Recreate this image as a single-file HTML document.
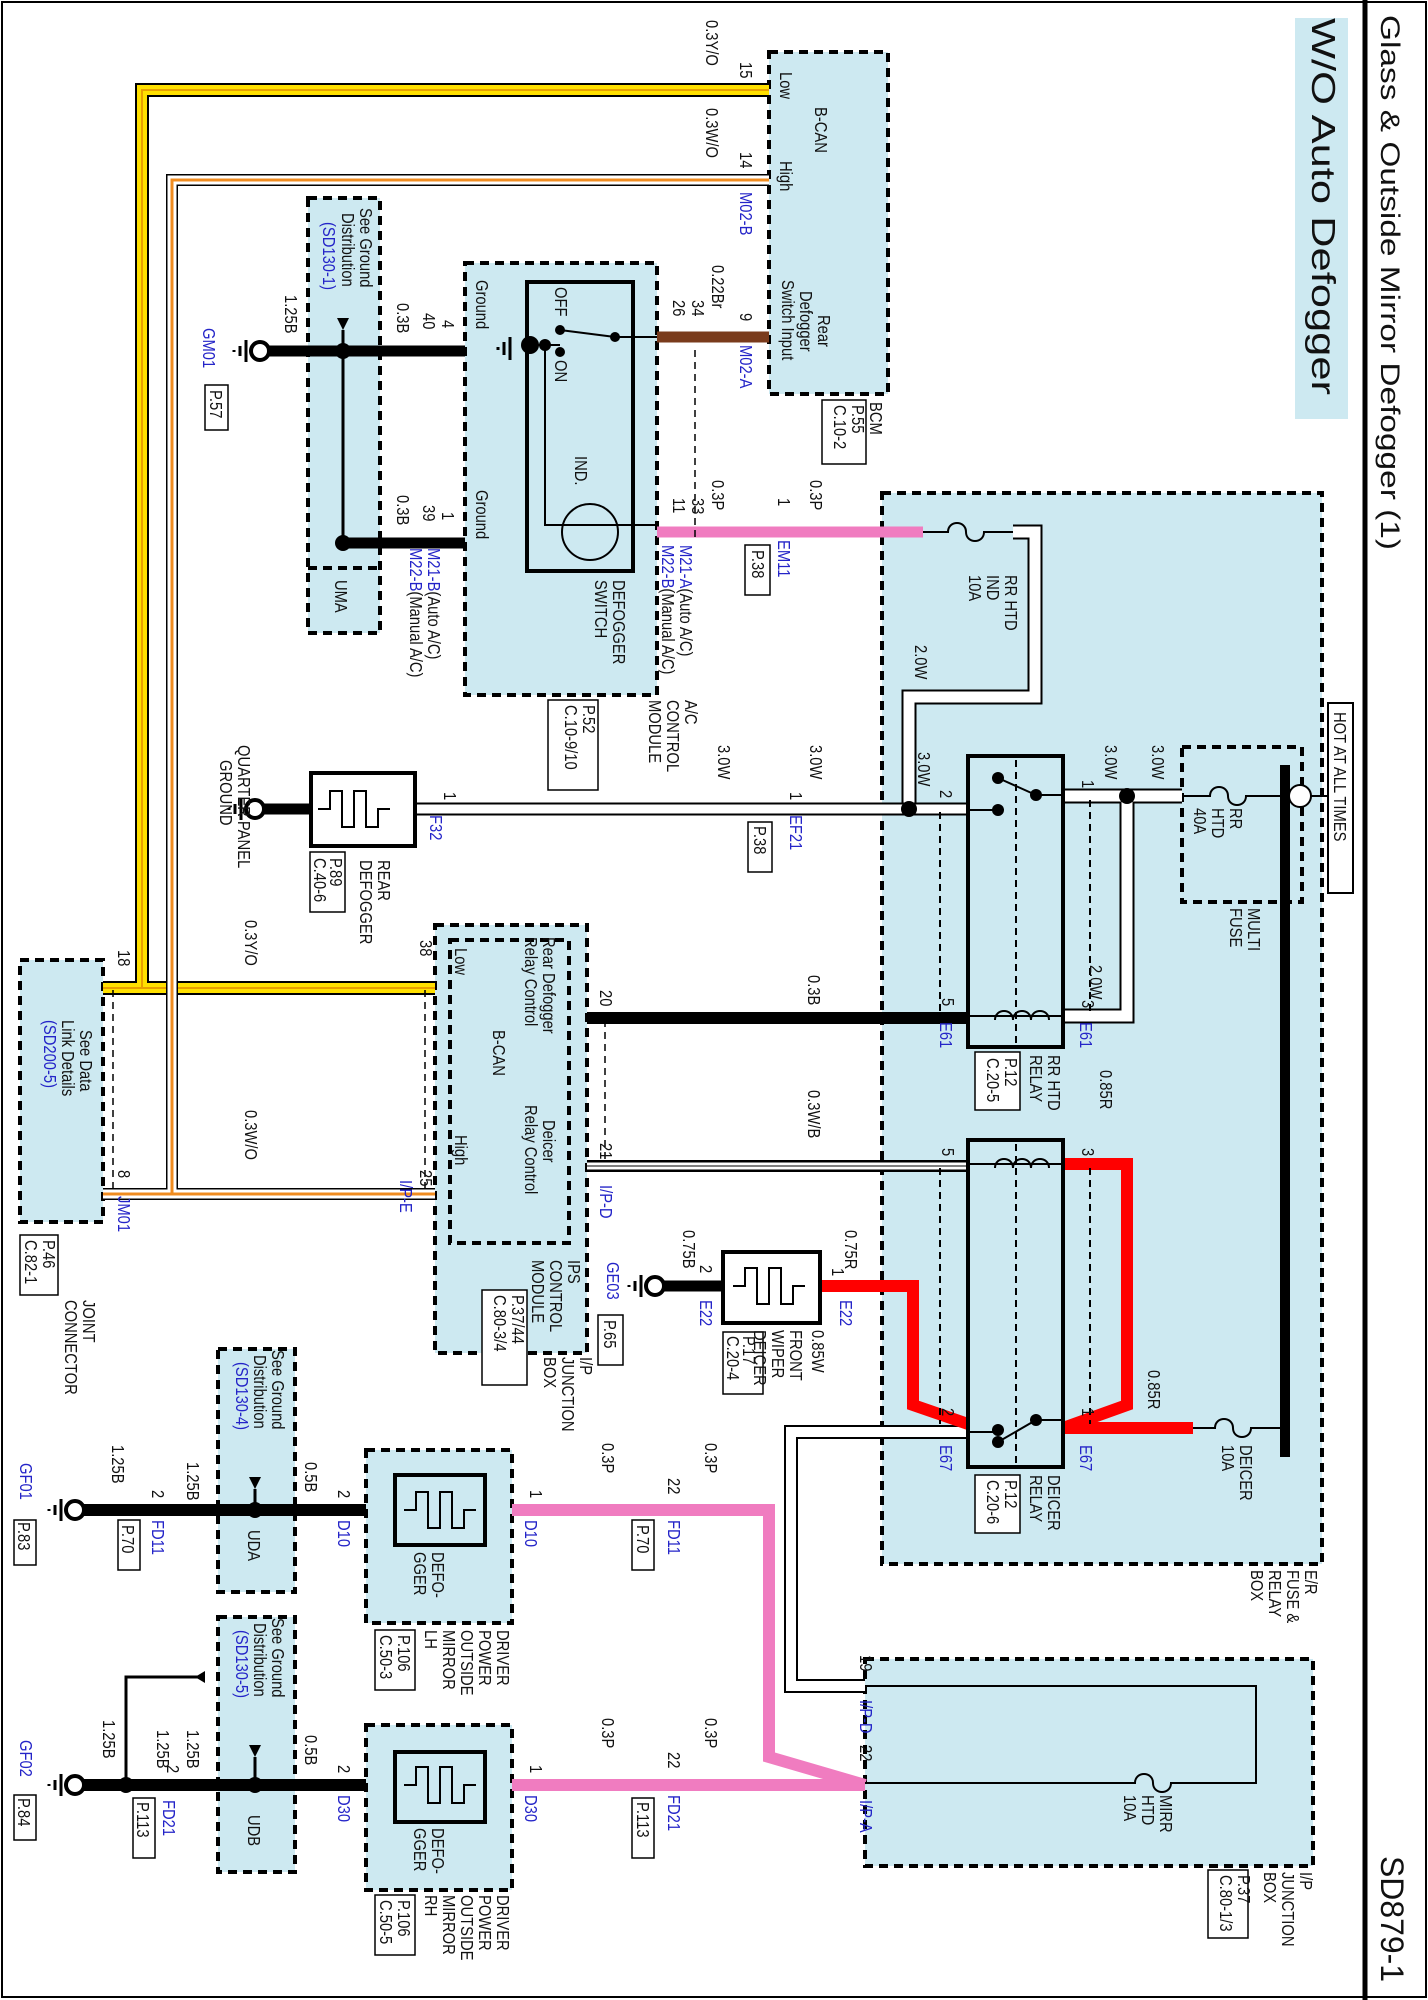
<!DOCTYPE html>
<html><head><meta charset="utf-8"><style>
html,body{margin:0;padding:0;background:#fff}
svg{display:block}
text{font-family:"Liberation Sans",sans-serif;font-size:18px;fill:#111}
.b{fill:#2424c8}
</style></head><body>
<svg width="1428" height="2000" viewBox="0 0 1428 2000" xmlns="http://www.w3.org/2000/svg">
<defs>
<path id="heat" d="M0 0 h12 v-18 h12 v36 h12 v-36 h12 v36 h12 v-18 h12" fill="none" stroke="#000" stroke-width="2"/>
</defs>
<rect x="2" y="2" width="1424" height="1995" fill="#fff" stroke="#000" stroke-width="2"/>
<line x1="1365" y1="0" x2="1365" y2="2000" stroke="#000" stroke-width="5"/>
<text transform="translate(1381 15) rotate(90)" style="font-size:27px" textLength="535" lengthAdjust="spacingAndGlyphs">Glass &amp; Outside Mirror Defogger (1)</text>
<text transform="translate(1381 1856) rotate(90)" style="font-size:32px" textLength="126" lengthAdjust="spacingAndGlyphs">SD879-1</text>
<rect x="1295" y="18" width="53" height="401" fill="#cde9f1"/>
<text transform="translate(1312 18) rotate(90)" style="font-size:33px" textLength="377" lengthAdjust="spacingAndGlyphs">W/O Auto Defogger</text>

<g fill="#cde9f1" stroke="#000" stroke-width="4" stroke-dasharray="9 6">
<rect x="769" y="52" width="119" height="342"/>
<rect x="465" y="263" width="192" height="432"/>
<rect x="308" y="198" width="72" height="435"/>
<rect x="882" y="493" width="440" height="1071"/>
<rect x="20" y="960" width="83" height="262"/>
<rect x="435" y="925" width="152" height="428"/>
<rect x="218" y="1349" width="77" height="243"/>
<rect x="218" y="1617" width="77" height="255"/>
<rect x="366" y="1450" width="146" height="173"/>
<rect x="366" y="1725" width="146" height="165"/>
<rect x="865" y="1659" width="448" height="207"/>
</g>
<g fill="none" stroke="#000" stroke-width="4" stroke-dasharray="9 6">
<rect x="1182" y="747" width="120" height="155"/>
<rect x="450" y="940" width="119" height="303"/>
<line x1="218" y1="1510" x2="295" y2="1510"/>
<line x1="218" y1="1785" x2="295" y2="1785"/>
<line x1="308" y1="568" x2="380" y2="568"/>
</g>

<g fill="none">
<path d="M769 90 H142 V988 H103 M142 988 H435" stroke="#000" stroke-width="14"/>
<path d="M769 90 H142 V988 H103 M142 988 H435" stroke="#ffe000" stroke-width="10"/>
<path d="M769 90 H142 V988 H103 M142 988 H435" stroke="#e8a000" stroke-width="2"/>
<path d="M769 180 H172 V1194 H103 M172 1194 H435" stroke="#000" stroke-width="12"/>
<path d="M769 180 H172 V1194 H103 M172 1194 H435" stroke="#fff" stroke-width="9"/>
<path d="M769 180 H172 V1194 H103 M172 1194 H435" stroke="#f08c20" stroke-width="3"/>
<line x1="657" y1="337" x2="769" y2="337" stroke="#7a3b1c" stroke-width="11"/>
<line x1="657" y1="532" x2="923" y2="532" stroke="#f07cc0" stroke-width="11"/>
<path d="M260 351 H465 M343 543 H465" stroke="#000" stroke-width="11"/>
<line x1="343" y1="351" x2="343" y2="543" stroke="#000" stroke-width="3"/>
<path d="M1013 532 H1035 V697 H909 V809" stroke="#000" stroke-width="15"/>
<path d="M1013 532 H1035 V697 H909 V809" stroke="#fff" stroke-width="11"/>
<path d="M415 809 H968" stroke="#000" stroke-width="13"/>
<path d="M415 809 H968" stroke="#fff" stroke-width="9"/>
<path d="M1063 796 H1182 M1127 796 V1016 H1063" stroke="#000" stroke-width="15"/>
<path d="M1063 796 H1182 M1127 796 V1016 H1063" stroke="#fff" stroke-width="11"/>
<line x1="587" y1="1018" x2="968" y2="1018" stroke="#000" stroke-width="12"/>
<line x1="587" y1="1166" x2="968" y2="1166" stroke="#000" stroke-width="12"/>
<line x1="587" y1="1166" x2="968" y2="1166" stroke="#fff" stroke-width="7"/>
<line x1="587" y1="1166" x2="968" y2="1166" stroke="#000" stroke-width="1"/>
<path d="M968 1432 H791 V1686 H865" stroke="#000" stroke-width="14"/>
<path d="M968 1432 H791 V1686 H865" stroke="#fff" stroke-width="10"/>
<path d="M1063 1164 H1127 V1405 L1063 1428 H1193" stroke="#f00" stroke-width="12"/>
<path d="M820 1286 H913 V1405 L968 1424" stroke="#f00" stroke-width="12"/>
<line x1="655" y1="1286" x2="723" y2="1286" stroke="#000" stroke-width="11"/>
<path d="M512 1510 H769 V1757 L865 1785 M512 1785 H865" stroke="#f07cc0" stroke-width="12"/>
<path d="M75 1510 H366 M75 1785 H366" stroke="#000" stroke-width="12"/>
<path d="M205 1677 H126 V1785" stroke="#000" stroke-width="3"/>
<line x1="255" y1="809" x2="311" y2="809" stroke="#000" stroke-width="11"/>
<path d="M865 1686 H1256 V1783 H1200 M1110 1783 H865" stroke="#000" stroke-width="2"/>
</g>

<rect x="1280" y="765" width="10" height="692" fill="#000"/>
<line x1="1290" y1="796" x2="1330" y2="796" stroke="#000" stroke-width="2"/>
<circle cx="1300" cy="796" r="11" fill="#fff" stroke="#000" stroke-width="2"/>
<g fill="none" stroke="#000" stroke-width="2">
<path d="M1182 796 H1210 c0-12 18-12 18 0 c0 12 18 12 18 0 H1280"/>
<path d="M923 532 H948 c0-12 18-12 18 0 c0 12 18 12 18 0 H1013"/>
<path d="M1193 1428 H1215 c0-12 18-12 18 0 c0 12 18 12 18 0 H1280"/>
<path d="M1110 1783 H1135 c0-12 18-12 18 0 c0 12 18 12 18 0 H1200"/>
</g>
<rect x="1328" y="703" width="25" height="190" fill="#fff" stroke="#000" stroke-width="2"/>
<text transform="translate(1334 712) rotate(90) scale(.82 1)">HOT AT ALL TIMES</text>

<g fill="none" stroke="#000">
<rect x="968" y="756" width="95" height="291" stroke-width="4"/>
<rect x="968" y="1140" width="95" height="327" stroke-width="4"/>
<rect x="527" y="282" width="106" height="289" stroke-width="4"/>
<rect x="311" y="773" width="104" height="73" stroke-width="4"/>
<rect x="723" y="1252" width="97" height="71" stroke-width="4"/>
<rect x="395" y="1475" width="90" height="70" stroke-width="4"/>
<rect x="395" y="1752" width="90" height="70" stroke-width="4"/>
<g stroke-width="2">
<path d="M968 810 H998 M998 778 L1036 795 H1063 M968 1016 H1063 M968 1164 H1063 M968 1432 H998 M998 1442 L1036 1420 H1063"/>
<path d="M995 1020 c0-12 18-12 18 0 c0-12 18-12 18 0 c0-12 18-12 18 0 M995 1168 c0-12 18-12 18 0 c0-12 18-12 18 0 c0-12 18-12 18 0"/>
<path d="M1016 760 V1044 M1016 1144 V1464 M1090 800 V1012 M1090 1168 V1424 M940 812 V1012 M940 1168 V1424" stroke-dasharray="7 5"/>
<path d="M527 345 H560 M560 330 L615 337 H657 M545 345 V525 H657"/>
<path d="M695 350 V540 M113 990 V1190 M425 990 V1190 M605 1020 V1160" stroke-dasharray="7 5" stroke-width="1.5"/>
<circle cx="590" cy="532" r="28"/>
</g>
</g>
<g fill="#000">
<circle cx="998" cy="778" r="6"/><circle cx="1036" cy="795" r="6"/><circle cx="998" cy="810" r="6"/>
<circle cx="998" cy="1442" r="6"/><circle cx="1036" cy="1420" r="6"/><circle cx="998" cy="1430" r="6"/>
<circle cx="909" cy="809" r="8"/><circle cx="1127" cy="796" r="8"/>
<circle cx="343" cy="351" r="8"/><circle cx="343" cy="543" r="8"/>
<circle cx="255" cy="1510" r="8"/><circle cx="255" cy="1785" r="8"/><circle cx="126" cy="1785" r="8"/>
<circle cx="545" cy="345" r="6"/><circle cx="530" cy="345" r="9"/><circle cx="560" cy="330" r="5"/><circle cx="615" cy="337" r="5"/><circle cx="560" cy="352" r="5"/>
<polygon points="337,318 349,318 343,330"/><polygon points="249,1477 261,1477 255,1489"/><polygon points="249,1745 261,1745 255,1757"/><polygon points="205,1671 205,1683 195,1677"/>
</g>
<line x1="255" y1="1489" x2="255" y2="1510" stroke="#000" stroke-width="3"/>
<line x1="255" y1="1757" x2="255" y2="1785" stroke="#000" stroke-width="3"/>
<line x1="343" y1="330" x2="343" y2="351" stroke="#000" stroke-width="3"/>
<use href="#heat" x="318" y="809"/>
<use href="#heat" x="733" y="1286"/>
<use href="#heat" x="404" y="1510"/>
<use href="#heat" x="404" y="1785"/>
<g fill="#fff" stroke="#000" stroke-width="4">
<circle cx="260" cy="351" r="9"/><circle cx="255" cy="809" r="9"/><circle cx="655" cy="1286" r="9"/><circle cx="75" cy="1510" r="9"/><circle cx="75" cy="1785" r="9"/>
</g>
<g stroke="#000" stroke-width="3">
<path d="M246 340 V362 M240 346 V356 M234 350 V352"/><path d="M241 798 V820 M235 804 V814 M229 808 V810"/>
<path d="M641 1275 V1297 M635 1281 V1291 M629 1285 V1287"/><path d="M61 1499 V1521 M55 1505 V1515 M49 1509 V1511"/><path d="M61 1774 V1796 M55 1780 V1790 M49 1784 V1786"/>
<path d="M510 337 V360 M504 342 V355 M498 347 V350"/>
</g>
<g fill="#fff" stroke="#000" stroke-width="1.5">
<rect x="822" y="400" width="44" height="64"/><rect x="548" y="700" width="50" height="90"/><rect x="745" y="545" width="25" height="50"/>
<rect x="205" y="385" width="23" height="45"/><rect x="748" y="822" width="24" height="50"/><rect x="310" y="852" width="35" height="60"/>
<rect x="975" y="1052" width="45" height="58"/><rect x="975" y="1475" width="45" height="58"/><rect x="723" y="1332" width="40" height="62"/>
<rect x="598" y="1315" width="25" height="50"/><rect x="482" y="1290" width="45" height="95"/><rect x="20" y="1235" width="38" height="60"/>
<rect x="375" y="1630" width="40" height="60"/><rect x="375" y="1895" width="40" height="60"/><rect x="118" y="1520" width="22" height="50"/>
<rect x="632" y="1520" width="22" height="50"/><rect x="133" y="1798" width="22" height="60"/><rect x="632" y="1798" width="22" height="60"/>
<rect x="14" y="1520" width="22" height="45"/><rect x="14" y="1795" width="22" height="45"/><rect x="1208" y="1870" width="40" height="68"/>
</g>

<g>
<text transform="translate(780 72) rotate(90) scale(.82 1)">Low</text>
<text transform="translate(780 161) rotate(90) scale(.82 1)">High</text>
<text transform="translate(815 107) rotate(90) scale(.82 1)">B-CAN</text>
<text transform="translate(818 315) rotate(90) scale(.82 1)">Rear</text>
<text transform="translate(800 291) rotate(90) scale(.82 1)">Defogger</text>
<text transform="translate(782 280) rotate(90) scale(.82 1)">Switch Input</text>
<text transform="translate(870 402) rotate(90) scale(.82 1)">BCM</text>
<text transform="translate(852 405) rotate(90) scale(.82 1)">P.55</text><text transform="translate(834 405) rotate(90) scale(.82 1)">C.10-2</text>
<text transform="translate(706 20) rotate(90) scale(.82 1)">0.3Y/O</text><text transform="translate(740 62) rotate(90) scale(.82 1)">15</text>
<text transform="translate(706 108) rotate(90) scale(.82 1)">0.3W/O</text><text transform="translate(740 152) rotate(90) scale(.82 1)">14</text>
<text class="b" transform="translate(740 192) rotate(90) scale(.82 1)">M02-B</text>
<text transform="translate(740 313) rotate(90) scale(.82 1)">9</text><text transform="translate(712 265) rotate(90) scale(.82 1)">0.22Br</text>
<text transform="translate(692 300) rotate(90) scale(.82 1)">34</text><text transform="translate(673 300) rotate(90) scale(.82 1)">26</text>
<text class="b" transform="translate(740 345) rotate(90) scale(.82 1)">M02-A</text>
<text transform="translate(712 480) rotate(90) scale(.82 1)">0.3P</text><text transform="translate(692 498) rotate(90) scale(.82 1)">33</text><text transform="translate(673 498) rotate(90) scale(.82 1)">11</text>
<text transform="translate(680 545) rotate(90) scale(.82 1)"><tspan class="b">M21-A</tspan>(Auto A/C)</text>
<text transform="translate(662 545) rotate(90) scale(.82 1)"><tspan class="b">M22-B</tspan>(Manual A/C)</text>
<text transform="translate(810 480) rotate(90) scale(.82 1)">0.3P</text><text transform="translate(778 498) rotate(90) scale(.82 1)">1</text>
<text class="b" transform="translate(778 540) rotate(90) scale(.82 1)">EM11</text><text transform="translate(752 550) rotate(90) scale(.82 1)">P.38</text>
<text transform="translate(476 280) rotate(90) scale(.82 1)">Ground</text><text transform="translate(476 490) rotate(90) scale(.82 1)">Ground</text>
<text transform="translate(555 287) rotate(90) scale(.82 1)">OFF</text><text transform="translate(555 360) rotate(90) scale(.82 1)">ON</text>
<text transform="translate(575 456) rotate(90) scale(.82 1)">IND.</text>
<text transform="translate(613 580) rotate(90) scale(.82 1)">DEFOGGER</text><text transform="translate(595 580) rotate(90) scale(.82 1)">SWITCH</text>
<text transform="translate(685 700) rotate(90) scale(.82 1)">A/C</text><text transform="translate(667 700) rotate(90) scale(.82 1)">CONTROL</text><text transform="translate(649 700) rotate(90) scale(.82 1)">MODULE</text>
<text transform="translate(583 705) rotate(90) scale(.82 1)">P.52</text><text transform="translate(565 705) rotate(90) scale(.82 1)">C.10-9/10</text>
<text transform="translate(442 320) rotate(90) scale(.82 1)">4</text><text transform="translate(423 313) rotate(90) scale(.82 1)">40</text><text transform="translate(397 303) rotate(90) scale(.82 1)">0.3B</text>
<text transform="translate(442 512) rotate(90) scale(.82 1)">1</text><text transform="translate(423 505) rotate(90) scale(.82 1)">39</text><text transform="translate(397 495) rotate(90) scale(.82 1)">0.3B</text>
<text transform="translate(428 548) rotate(90) scale(.82 1)"><tspan class="b">M21-B</tspan>(Auto A/C)</text>
<text transform="translate(410 548) rotate(90) scale(.82 1)"><tspan class="b">M22-B</tspan>(Manual A/C)</text>
<text transform="translate(360 208) rotate(90) scale(.82 1)">See Ground</text><text transform="translate(342 213) rotate(90) scale(.82 1)">Distribution</text>
<text class="b" transform="translate(323 222) rotate(90) scale(.82 1)">(SD130-1)</text><text transform="translate(335 580) rotate(90) scale(.82 1)">UMA</text>
<text transform="translate(285 295) rotate(90) scale(.82 1)">1.25B</text>
<text class="b" transform="translate(203 328) rotate(90) scale(.82 1)">GM01</text><text transform="translate(210 390) rotate(90) scale(.82 1)">P.57</text>
<text transform="translate(1005 575) rotate(90) scale(.82 1)">RR HTD</text><text transform="translate(987 575) rotate(90) scale(.82 1)">IND</text><text transform="translate(969 575) rotate(90) scale(.82 1)">10A</text>
<text transform="translate(915 645) rotate(90) scale(.82 1)">2.0W</text>
<text transform="translate(1152 745) rotate(90) scale(.82 1)">3.0W</text><text transform="translate(1105 745) rotate(90) scale(.82 1)">3.0W</text>
<text transform="translate(1082 780) rotate(90) scale(.82 1)">1</text><text transform="translate(940 790) rotate(90) scale(.82 1)">2</text>
<text transform="translate(918 752) rotate(90) scale(.82 1)">3.0W</text><text transform="translate(810 745) rotate(90) scale(.82 1)">3.0W</text><text transform="translate(718 745) rotate(90) scale(.82 1)">3.0W</text>
<text transform="translate(790 792) rotate(90) scale(.82 1)">1</text><text class="b" transform="translate(790 815) rotate(90) scale(.82 1)">EF21</text><text transform="translate(754 826) rotate(90) scale(.82 1)">P.38</text>
<text transform="translate(444 792) rotate(90) scale(.82 1)">1</text><text class="b" transform="translate(430 815) rotate(90) scale(.82 1)">F32</text>
<text transform="translate(1230 808) rotate(90) scale(.82 1)">RR</text><text transform="translate(1212 808) rotate(90) scale(.82 1)">HTD</text><text transform="translate(1194 808) rotate(90) scale(.82 1)">40A</text>
<text transform="translate(1248 908) rotate(90) scale(.82 1)">MULTI</text><text transform="translate(1230 908) rotate(90) scale(.82 1)">FUSE</text>
<text transform="translate(1090 965) rotate(90) scale(.82 1)">2.0W</text><text transform="translate(1082 1000) rotate(90) scale(.82 1)">3</text>
<text class="b" transform="translate(1080 1022) rotate(90) scale(.82 1)">E61</text><text transform="translate(942 998) rotate(90) scale(.82 1)">5</text><text class="b" transform="translate(940 1022) rotate(90) scale(.82 1)">E61</text>
<text transform="translate(1048 1055) rotate(90) scale(.82 1)">RR HTD</text><text transform="translate(1030 1055) rotate(90) scale(.82 1)">RELAY</text>
<text transform="translate(1005 1058) rotate(90) scale(.82 1)">P.12</text><text transform="translate(987 1058) rotate(90) scale(.82 1)">C.20-5</text>
<text transform="translate(1100 1070) rotate(90) scale(.82 1)">0.85R</text><text transform="translate(1082 1148) rotate(90) scale(.82 1)">3</text><text transform="translate(942 1148) rotate(90) scale(.82 1)">5</text>
<text transform="translate(1148 1370) rotate(90) scale(.82 1)">0.85R</text><text transform="translate(1082 1408) rotate(90) scale(.82 1)">1</text><text transform="translate(942 1408) rotate(90) scale(.82 1)">2</text>
<text class="b" transform="translate(1080 1445) rotate(90) scale(.82 1)">E67</text><text class="b" transform="translate(940 1445) rotate(90) scale(.82 1)">E67</text>
<text transform="translate(1048 1475) rotate(90) scale(.82 1)">DEICER</text><text transform="translate(1030 1475) rotate(90) scale(.82 1)">RELAY</text>
<text transform="translate(1005 1480) rotate(90) scale(.82 1)">P.12</text><text transform="translate(987 1480) rotate(90) scale(.82 1)">C.20-6</text>
<text transform="translate(1240 1445) rotate(90) scale(.82 1)">DEICER</text><text transform="translate(1222 1445) rotate(90) scale(.82 1)">10A</text>
<text transform="translate(1305 1570) rotate(90) scale(.82 1)">E/R</text><text transform="translate(1287 1570) rotate(90) scale(.82 1)">FUSE &amp;</text><text transform="translate(1269 1570) rotate(90) scale(.82 1)">RELAY</text><text transform="translate(1251 1570) rotate(90) scale(.82 1)">BOX</text>
<text transform="translate(845 1230) rotate(90) scale(.82 1)">0.75R</text><text transform="translate(832 1268) rotate(90) scale(.82 1)">1</text>
<text class="b" transform="translate(840 1300) rotate(90) scale(.82 1)">E22</text><text transform="translate(812 1330) rotate(90) scale(.82 1)">0.85W</text>
<text transform="translate(700 1265) rotate(90) scale(.82 1)">2</text><text transform="translate(683 1230) rotate(90) scale(.82 1)">0.75B</text>
<text class="b" transform="translate(700 1300) rotate(90) scale(.82 1)">E22</text>
<text class="b" transform="translate(607 1262) rotate(90) scale(.82 1)">GE03</text><text transform="translate(604 1320) rotate(90) scale(.82 1)">P.65</text>
<text transform="translate(790 1330) rotate(90) scale(.82 1)">FRONT</text><text transform="translate(772 1330) rotate(90) scale(.82 1)">WIPER</text><text transform="translate(754 1330) rotate(90) scale(.82 1)">DEICER</text>
<text transform="translate(743 1336) rotate(90) scale(.82 1)">P.17</text><text transform="translate(727 1336) rotate(90) scale(.82 1)">C.20-4</text>
<text transform="translate(455 948) rotate(90) scale(.82 1)">Low</text><text transform="translate(455 1135) rotate(90) scale(.82 1)">High</text>
<text transform="translate(493 1030) rotate(90) scale(.82 1)">B-CAN</text>
<text transform="translate(543 937) rotate(90) scale(.82 1)">Rear Defogger</text><text transform="translate(525 937) rotate(90) scale(.82 1)">Relay Control</text>
<text transform="translate(543 1120) rotate(90) scale(.82 1)">Deicer</text><text transform="translate(525 1105) rotate(90) scale(.82 1)">Relay Control</text>
<text transform="translate(600 990) rotate(90) scale(.82 1)">20</text><text transform="translate(600 1143) rotate(90) scale(.82 1)">21</text>
<text class="b" transform="translate(600 1185) rotate(90) scale(.82 1)">I/P-D</text>
<text transform="translate(808 975) rotate(90) scale(.82 1)">0.3B</text><text transform="translate(808 1090) rotate(90) scale(.82 1)">0.3W/B</text>
<text transform="translate(568 1260) rotate(90) scale(.82 1)">IPS</text><text transform="translate(550 1260) rotate(90) scale(.82 1)">CONTROL</text><text transform="translate(532 1260) rotate(90) scale(.82 1)">MODULE</text>
<text transform="translate(580 1357) rotate(90) scale(.82 1)">I/P</text><text transform="translate(562 1357) rotate(90) scale(.82 1)">JUNCTION</text><text transform="translate(544 1357) rotate(90) scale(.82 1)">BOX</text>
<text transform="translate(512 1295) rotate(90) scale(.82 1)">P.37/44</text><text transform="translate(494 1295) rotate(90) scale(.82 1)">C.80-3/4</text>
<text transform="translate(420 940) rotate(90) scale(.82 1)">38</text><text transform="translate(420 1170) rotate(90) scale(.82 1)">25</text>
<text class="b" transform="translate(400 1180) rotate(90) scale(.82 1)">I/P-E</text>
<text transform="translate(245 920) rotate(90) scale(.82 1)">0.3Y/O</text><text transform="translate(245 1110) rotate(90) scale(.82 1)">0.3W/O</text>
<text transform="translate(118 950) rotate(90) scale(.82 1)">18</text><text transform="translate(118 1170) rotate(90) scale(.82 1)">8</text>
<text class="b" transform="translate(118 1196) rotate(90) scale(.82 1)">JM01</text>
<text transform="translate(80 1030) rotate(90) scale(.82 1)">See Data</text><text transform="translate(62 1020) rotate(90) scale(.82 1)">Link Details</text>
<text class="b" transform="translate(44 1020) rotate(90) scale(.82 1)">(SD200-5)</text>
<text transform="translate(83 1300) rotate(90) scale(.82 1)">JOINT</text><text transform="translate(65 1300) rotate(90) scale(.82 1)">CONNECTOR</text>
<text transform="translate(43 1240) rotate(90) scale(.82 1)">P.46</text><text transform="translate(25 1240) rotate(90) scale(.82 1)">C.82-1</text>
<text transform="translate(378 860) rotate(90) scale(.82 1)">REAR</text><text transform="translate(360 860) rotate(90) scale(.82 1)">DEFOGGER</text>
<text transform="translate(330 858) rotate(90) scale(.82 1)">P.89</text><text transform="translate(314 858) rotate(90) scale(.82 1)">C.40-6</text>
<text transform="translate(238 745) rotate(90) scale(.82 1)">QUARTER PANEL</text><text transform="translate(220 760) rotate(90) scale(.82 1)">GROUND</text>
<text transform="translate(272 1350) rotate(90) scale(.82 1)">See Ground</text><text transform="translate(254 1355) rotate(90) scale(.82 1)">Distribution</text>
<text class="b" transform="translate(236 1362) rotate(90) scale(.82 1)">(SD130-4)</text><text transform="translate(248 1530) rotate(90) scale(.82 1)">UDA</text>
<text transform="translate(272 1618) rotate(90) scale(.82 1)">See Ground</text><text transform="translate(254 1623) rotate(90) scale(.82 1)">Distribution</text>
<text class="b" transform="translate(236 1630) rotate(90) scale(.82 1)">(SD130-5)</text><text transform="translate(248 1815) rotate(90) scale(.82 1)">UDB</text>
<text transform="translate(305 1462) rotate(90) scale(.82 1)">0.5B</text><text transform="translate(338 1490) rotate(90) scale(.82 1)">2</text><text class="b" transform="translate(338 1520) rotate(90) scale(.82 1)">D10</text>
<text transform="translate(187 1462) rotate(90) scale(.82 1)">1.25B</text><text transform="translate(152 1490) rotate(90) scale(.82 1)">2</text>
<text class="b" transform="translate(152 1520) rotate(90) scale(.82 1)">FD11</text><text transform="translate(122 1525) rotate(90) scale(.82 1)">P.70</text>
<text transform="translate(112 1445) rotate(90) scale(.82 1)">1.25B</text>
<text class="b" transform="translate(20 1463) rotate(90) scale(.82 1)">GF01</text><text transform="translate(18 1522) rotate(90) scale(.82 1)">P.83</text>
<text transform="translate(305 1735) rotate(90) scale(.82 1)">0.5B</text><text transform="translate(338 1765) rotate(90) scale(.82 1)">2</text><text class="b" transform="translate(338 1795) rotate(90) scale(.82 1)">D30</text>
<text transform="translate(187 1730) rotate(90) scale(.82 1)">1.25B</text><text transform="translate(157 1730) rotate(90) scale(.82 1)">1.25B</text><text transform="translate(167 1765) rotate(90) scale(.82 1)">2</text>
<text class="b" transform="translate(163 1800) rotate(90) scale(.82 1)">FD21</text><text transform="translate(137 1802) rotate(90) scale(.82 1)">P.113</text>
<text transform="translate(103 1720) rotate(90) scale(.82 1)">1.25B</text>
<text class="b" transform="translate(20 1740) rotate(90) scale(.82 1)">GF02</text><text transform="translate(18 1798) rotate(90) scale(.82 1)">P.84</text>
<text transform="translate(530 1490) rotate(90) scale(.82 1)">1</text><text class="b" transform="translate(525 1520) rotate(90) scale(.82 1)">D10</text>
<text transform="translate(530 1765) rotate(90) scale(.82 1)">1</text><text class="b" transform="translate(525 1795) rotate(90) scale(.82 1)">D30</text>
<text transform="translate(602 1443) rotate(90) scale(.82 1)">0.3P</text><text transform="translate(705 1443) rotate(90) scale(.82 1)">0.3P</text>
<text transform="translate(668 1478) rotate(90) scale(.82 1)">22</text><text class="b" transform="translate(668 1520) rotate(90) scale(.82 1)">FD11</text><text transform="translate(637 1525) rotate(90) scale(.82 1)">P.70</text>
<text transform="translate(602 1718) rotate(90) scale(.82 1)">0.3P</text><text transform="translate(705 1718) rotate(90) scale(.82 1)">0.3P</text>
<text transform="translate(668 1752) rotate(90) scale(.82 1)">22</text><text class="b" transform="translate(668 1795) rotate(90) scale(.82 1)">FD21</text><text transform="translate(637 1802) rotate(90) scale(.82 1)">P.113</text>
<text transform="translate(432 1552) rotate(90) scale(.82 1)">DEFO-</text><text transform="translate(414 1552) rotate(90) scale(.82 1)">GGER</text>
<text transform="translate(432 1828) rotate(90) scale(.82 1)">DEFO-</text><text transform="translate(414 1828) rotate(90) scale(.82 1)">GGER</text>
<text transform="translate(497 1630) rotate(90) scale(.82 1)">DRIVER</text><text transform="translate(479 1630) rotate(90) scale(.82 1)">POWER</text><text transform="translate(461 1630) rotate(90) scale(.82 1)">OUTSIDE</text><text transform="translate(443 1630) rotate(90) scale(.82 1)">MIRROR</text><text transform="translate(425 1630) rotate(90) scale(.82 1)">LH</text>
<text transform="translate(398 1635) rotate(90) scale(.82 1)">P.106</text><text transform="translate(380 1635) rotate(90) scale(.82 1)">C.50-3</text>
<text transform="translate(497 1895) rotate(90) scale(.82 1)">DRIVER</text><text transform="translate(479 1895) rotate(90) scale(.82 1)">POWER</text><text transform="translate(461 1895) rotate(90) scale(.82 1)">OUTSIDE</text><text transform="translate(443 1895) rotate(90) scale(.82 1)">MIRROR</text><text transform="translate(425 1895) rotate(90) scale(.82 1)">RH</text>
<text transform="translate(398 1900) rotate(90) scale(.82 1)">P.106</text><text transform="translate(380 1900) rotate(90) scale(.82 1)">C.50-5</text>
<text transform="translate(860 1655) rotate(90) scale(.82 1)">19</text><text class="b" transform="translate(860 1700) rotate(90) scale(.82 1)">I/P-D</text>
<text transform="translate(860 1745) rotate(90) scale(.82 1)">22</text><text class="b" transform="translate(860 1800) rotate(90) scale(.82 1)">I/P-A</text>
<text transform="translate(1160 1795) rotate(90) scale(.82 1)">MIRR</text><text transform="translate(1142 1795) rotate(90) scale(.82 1)">HTD</text><text transform="translate(1124 1795) rotate(90) scale(.82 1)">10A</text>
<text transform="translate(1300 1872) rotate(90) scale(.82 1)">I/P</text><text transform="translate(1282 1872) rotate(90) scale(.82 1)">JUNCTION</text><text transform="translate(1264 1872) rotate(90) scale(.82 1)">BOX</text>
<text transform="translate(1238 1875) rotate(90) scale(.82 1)">P.37</text><text transform="translate(1220 1875) rotate(90) scale(.82 1)">C.80-1/3</text>
</g>
</svg>
</body></html>
